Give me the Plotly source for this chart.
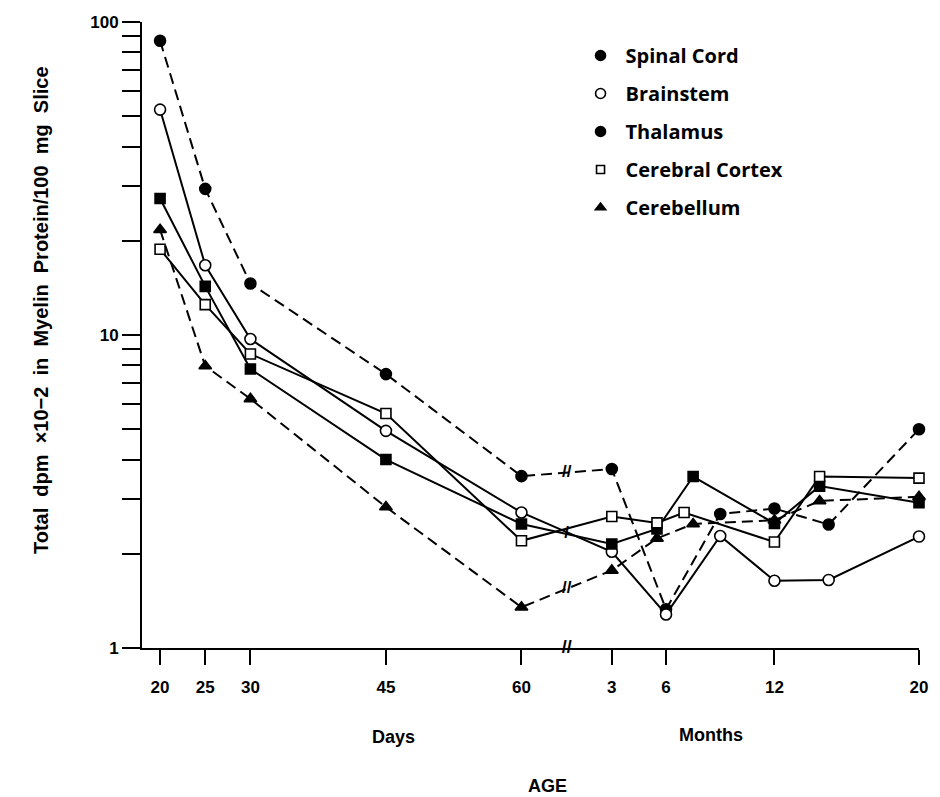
import plotly.graph_objects as go

# ---- ages on the x axis: days up to 60, then months after the break ----
day_ages = [20, 25, 30, 45, 60]
day_tick_labels = ["20", "25", "30", "45", "60"]
month_tick_ages = [3, 6, 12, 20]
month_tick_labels = ["3", "6", "12", "20"]

# ---- measured values (total dpm x10^-2 per 100 mg slice) ----
spinal_days = [87.1, 29.3, 14.6, 7.50, 3.54]
spinal_month_ages = [3, 6, 9, 12, 15, 20]
spinal_months = [3.73, 1.33, 2.68, 2.79, 2.48, 5.0]

brainstem_days = [52.5, 16.7, 9.71, 4.94, 2.71]
brainstem_month_ages = [3, 6, 9, 12, 15, 20]
brainstem_months = [2.03, 1.28, 2.28, 1.64, 1.65, 2.27]

thalamus_days = [27.3, 14.3, 7.79, 4.00, 2.49]
thalamus_month_ages = [3, 5.5, 7.5, 12, 14.5, 20]
thalamus_months = [2.15, 2.40, 3.53, 2.50, 3.29, 2.91]

cortex_days = [18.8, 12.5, 8.70, 5.61, 2.20]
cortex_month_ages = [3, 5.5, 7, 12, 14.5, 20]
cortex_months = [2.63, 2.51, 2.71, 2.18, 3.53, 3.49]

cerebellum_days = [21.7, 7.96, 6.25, 2.82, 1.35]
cerebellum_month_ages = [3, 5.5, 7.5, 12, 14.5, 20]
cerebellum_months = [1.77, 2.24, 2.49, 2.56, 2.95, 3.04]

# ---- broken age scale: one unit per day, two units per month ----
DAY_END = 60
BREAK_GAP = 10
UNITS_PER_MONTH = 2
FIRST_MONTH = 3


def month_pos(m):
    return DAY_END + BREAK_GAP + (m - FIRST_MONTH) * UNITS_PER_MONTH


BREAK_POS = DAY_END + BREAK_GAP / 2

INK = "black"
DASH = "11px,6px"

series = [
    dict(name="Spinal Cord", days=spinal_days, mx=spinal_month_ages, my=spinal_months,
         dash=DASH, symbol="circle", fill=INK, size=11, legend_symbol="circle", brk="//"),
    dict(name="Brainstem", days=brainstem_days, mx=brainstem_month_ages, my=brainstem_months,
         dash="solid", symbol="circle", fill="white", size=11, legend_symbol="circle", brk=None),
    dict(name="Thalamus", days=thalamus_days, mx=thalamus_month_ages, my=thalamus_months,
         dash="solid", symbol="square", fill=INK, size=10, legend_symbol="circle", brk="/"),
    dict(name="Cerebral Cortex", days=cortex_days, mx=cortex_month_ages, my=cortex_months,
         dash="solid", symbol="square", fill="white", size=10, legend_symbol="square", brk=None),
    dict(name="Cerebellum", days=cerebellum_days, mx=cerebellum_month_ages, my=cerebellum_months,
         dash=DASH, symbol="triangle-up", fill=INK, size=11, legend_symbol="triangle-up", brk="//"),
]

fig = go.Figure()

for s in series:
    xs = list(day_ages) + [month_pos(m) for m in s["mx"]]
    ys = list(s["days"]) + list(s["my"])
    fig.add_trace(go.Scatter(
        x=xs, y=ys, mode="lines+markers", showlegend=False, cliponaxis=False,
        line=dict(color=INK, width=2, dash=s["dash"]),
        marker=dict(symbol=s["symbol"], size=s["size"], color=s["fill"],
                    line=dict(color=INK, width=1.6)),
        hoverinfo="skip",
    ))
    if s["brk"]:
        # break mark drawn across the segment that spans the axis break
        y_mid = (s["days"][-1] * s["my"][0]) ** 0.5
        fig.add_trace(go.Scatter(
            x=[BREAK_POS], y=[y_mid], mode="text", text=[s["brk"]], showlegend=False,
            textfont=dict(family="Liberation Sans", size=17, color=INK, weight="bold"),
            hoverinfo="skip",
        ))

# legend entries (symbols only)
legend_sizes = {"circle": 10, "square": 8, "triangle-up": 9}
for i, s in enumerate(series):
    fig.add_trace(go.Scatter(
        x=[None], y=[None], mode="markers", name=s["name"], legendgroup=f"g{i}",
        marker=dict(symbol=s["legend_symbol"], size=legend_sizes[s["legend_symbol"]],
                    color=s["fill"], line=dict(color=INK, width=1.6)),
    ))

# break mark on the age axis
fig.add_trace(go.Scatter(
    x=[BREAK_POS], y=[1], mode="text", text=["//"], showlegend=False, cliponaxis=False,
    textfont=dict(family="Liberation Sans", size=18, color=INK, weight="bold"),
    hoverinfo="skip",
))

x_tickvals = list(day_ages) + [month_pos(m) for m in month_tick_ages]
x_ticktext = day_tick_labels + month_tick_labels

y_tickvals = [d * 10 ** k for k in range(2) for d in range(1, 10)] + [100]
y_ticktext = [str(v) if v in (1, 10, 100) else "" for v in y_tickvals]

tick_font = dict(family="Liberation Sans", size=17, color=INK, weight="bold")

fig.update_layout(
    width=940, height=797,
    margin=dict(l=142, r=13, t=22, b=149),
    paper_bgcolor="white", plot_bgcolor="white",
    showlegend=True,
    legend=dict(
        x=(580 - 142) / 785, y=(648 - 36) / 626, xanchor="left", yanchor="top",
        font=dict(family="Open Sans", size=20, color=INK, weight="bold"),
        tracegroupgap=9, itemwidth=40, bgcolor="rgba(0,0,0,0)", itemclick=False,
    ),
    xaxis=dict(
        range=[18, 104], showgrid=False, zeroline=False,
        showline=True, linecolor=INK, linewidth=2,
        ticks="outside", ticklen=15, tickwidth=2, tickcolor=INK,
        tickvals=x_tickvals, ticktext=x_ticktext, tickfont=tick_font,
        ticklabelstandoff=8,
    ),
    yaxis=dict(
        type="log", range=[0, 2], showgrid=False, zeroline=False,
        showline=True, linecolor=INK, linewidth=2,
        ticks="outside", ticklen=18, tickwidth=2, tickcolor=INK,
        tickvals=y_tickvals, ticktext=y_ticktext, tickfont=tick_font,
    ),
)

title_font = dict(family="Liberation Sans", size=18, color=INK, weight="bold")
sp = "\u00a0" * 2
fig.add_annotation(
    text=sp.join(["Total", "dpm", "×10−2", "in", "Myelin", "Protein/100", "mg", "Slice"]),
    xref="paper", yref="paper", x=(40 - 142) / 785, y=(648 - 310) / 626,
    textangle=-90, showarrow=False, font=dict(title_font, size=20),
    xanchor="center", yanchor="middle",
)
fig.add_annotation(text="Days", xref="paper", yref="paper", x=(396 - 142) / 785,
                   y=(648 - 737) / 626, showarrow=False, font=title_font,
                   xanchor="center", yanchor="middle")
fig.add_annotation(text="Months", xref="paper", yref="paper", x=(717 - 142) / 785,
                   y=(648 - 735) / 626, showarrow=False, font=title_font,
                   xanchor="center", yanchor="middle")
fig.add_annotation(text="AGE", xref="paper", yref="paper", x=(552 - 142) / 785,
                   y=(648 - 786) / 626, showarrow=False, font=title_font,
                   xanchor="center", yanchor="middle")

fig.write_html("out.html")
